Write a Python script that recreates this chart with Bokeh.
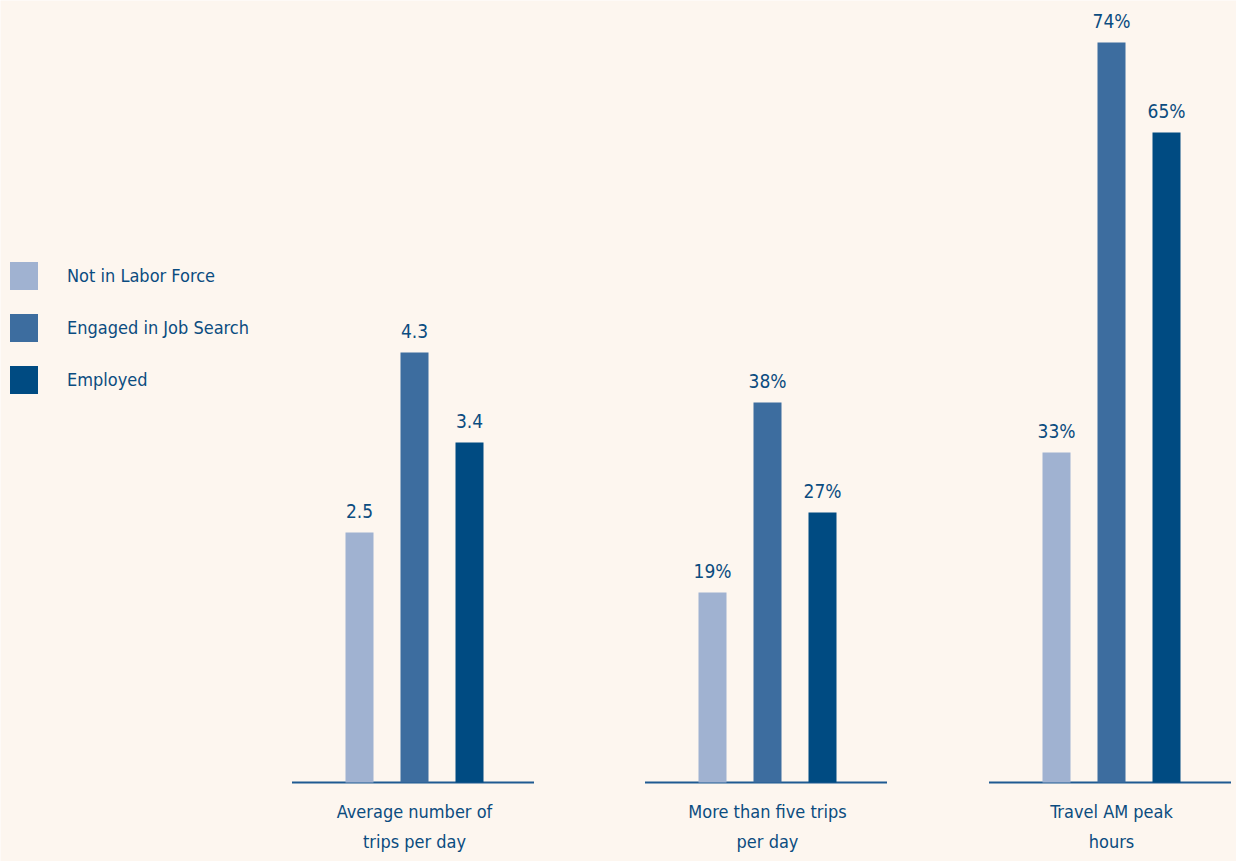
from bokeh.plotting import figure
from bokeh.models import Range1d, Legend, LegendItem, ColumnDataSource
from bokeh.core.properties import value
from bokeh.embed import file_html
from bokeh.resources import INLINE

# ---- data ----
categories = ["Average number of\ntrips per day",
              "More than five trips\nper day",
              "Travel AM peak\nhours"]
series = ["Not in Labor Force", "Engaged in Job Search", "Employed"]
not_in_labor_force = [2.5, 19, 33]
engaged_in_job_search = [4.3, 38, 74]
employed = [3.4, 27, 65]
series_values = [not_in_labor_force, engaged_in_job_search, employed]
colors = ["#A0B2D1", "#3D6D9F", "#004B82"]

# ---- styling / layout ----
BG = "#FDF6EF"
TXT = "#0B4C80"
FONT = "DejaVu Sans Condensed"
FS = "18px"

W, H = 1236, 861
px_per_group = 348.5
group_pos = [0.0, 353 / px_per_group, 697 / px_per_group]   # slight uneven gaps
x0 = -414 / px_per_group
p = figure(width=W, height=H, output_backend="svg", toolbar_location=None,
           x_range=Range1d(x0, x0 + W / px_per_group),
           y_range=Range1d(-7.9, -7.9 + H / 10.0),
           x_axis_location=None, y_axis_location=None,
           min_border=0, background_fill_color=BG, border_fill_color=BG,
           outline_line_color=None)
p.extra_y_ranges = {"avg": Range1d(-0.79, -0.79 + H / 100.0)}
p.xgrid.visible = False
p.ygrid.visible = False

offset = 55 / px_per_group
bar_w = 28 / px_per_group
half_base = 121 / px_per_group
base_shift = -1.5 / px_per_group

# baselines per group
p.segment(x0=[g + base_shift - half_base for g in group_pos],
          x1=[g + base_shift + half_base for g in group_pos],
          y0=[0] * len(group_pos), y1=[0] * len(group_pos),
          line_color="#1F5A92", line_width=2)

legend_items = []
for j, (name, vals, col) in enumerate(zip(series, series_values, colors)):
    xs = [g + (j - 1) * offset for g in group_pos]
    labels = [f"{v:.1f}" if i == 0 else f"{v:.0f}%" for i, v in enumerate(vals)]
    # group 0 on its own scale (trips), others on percent scale
    src_a = ColumnDataSource(dict(x=xs[:1], top=vals[:1], lab=labels[:1]))
    src_b = ColumnDataSource(dict(x=xs[1:], top=vals[1:], lab=labels[1:]))
    r = p.vbar(x="x", top="top", bottom=0, width=bar_w, source=src_a,
               fill_color=col, line_color=None, y_range_name="avg")
    p.vbar(x="x", top="top", bottom=0, width=bar_w, source=src_b,
           fill_color=col, line_color=None)
    for src, rn in ((src_a, "avg"), (src_b, "default")):
        p.text(x="x", y="top", text="lab", source=src, y_range_name=rn,
               y_offset=-22, text_align="center", text_baseline="alphabetic",
               text_font=value(FONT), text_font_size="19px", text_color=TXT)
    legend_items.append(LegendItem(label=name, renderers=[r]))

# category labels
p.text(x=group_pos, y=[0] * len(group_pos), text=categories,
       y_offset=18, text_align="center", text_baseline="top",
       text_line_height=1.43,
       text_font=value(FONT), text_font_size=FS, text_color=TXT)

legend = Legend(items=legend_items, location=(6, 464),
                glyph_width=35, glyph_height=35, label_standoff=26,
                spacing=17, padding=0, margin=0,
                border_line_color=None, background_fill_alpha=0,
                label_text_font=FONT, label_text_font_size=FS,
                label_text_color=TXT)
p.add_layout(legend, "center")

html = file_html(p, INLINE)
html = html.replace("<body>", '<body style="background-color:%s;">' % BG, 1)
open("out.html", "w").write(html)
